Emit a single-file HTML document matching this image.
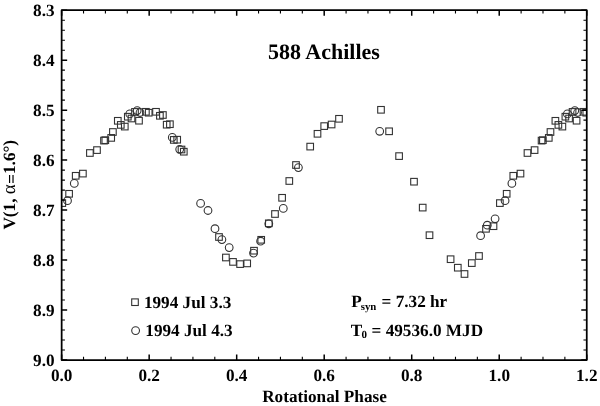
<!DOCTYPE html>
<html><head><meta charset="utf-8"><style>
html,body{margin:0;padding:0;background:#fff;}
body{width:600px;height:406px;overflow:hidden;}
svg{display:block;will-change:transform;}
text{text-rendering:geometricPrecision;font-family:"Liberation Serif",serif;font-weight:bold;fill:#000;}
</style></head><body>
<svg width="600" height="406" viewBox="0 0 600 406">
<defs><clipPath id="c"><rect x="61.65" y="10.2" width="525.1" height="349.8"/></clipPath></defs>
<g clip-path="url(#c)" fill="none" stroke="#333" stroke-width="1.1">
<rect x="59.00" y="199.80" width="6.6" height="6.6"/>
<rect x="65.80" y="190.50" width="6.6" height="6.6"/>
<rect x="72.40" y="172.50" width="6.6" height="6.6"/>
<rect x="79.60" y="170.30" width="6.6" height="6.6"/>
<rect x="86.60" y="149.70" width="6.6" height="6.6"/>
<rect x="93.70" y="146.80" width="6.6" height="6.6"/>
<rect x="100.70" y="137.30" width="6.6" height="6.6"/>
<rect x="102.00" y="136.90" width="6.6" height="6.6"/>
<rect x="107.90" y="134.60" width="6.6" height="6.6"/>
<rect x="109.60" y="128.70" width="6.6" height="6.6"/>
<rect x="114.50" y="117.50" width="6.6" height="6.6"/>
<rect x="117.50" y="121.60" width="6.6" height="6.6"/>
<rect x="121.50" y="123.30" width="6.6" height="6.6"/>
<rect x="124.50" y="113.40" width="6.6" height="6.6"/>
<rect x="128.20" y="115.20" width="6.6" height="6.6"/>
<rect x="131.70" y="108.60" width="6.6" height="6.6"/>
<rect x="135.70" y="117.40" width="6.6" height="6.6"/>
<rect x="142.60" y="108.50" width="6.6" height="6.6"/>
<rect x="145.40" y="109.40" width="6.6" height="6.6"/>
<rect x="152.70" y="108.50" width="6.6" height="6.6"/>
<rect x="156.60" y="112.50" width="6.6" height="6.6"/>
<rect x="159.60" y="111.70" width="6.6" height="6.6"/>
<rect x="163.40" y="121.40" width="6.6" height="6.6"/>
<rect x="166.60" y="120.90" width="6.6" height="6.6"/>
<rect x="170.50" y="136.60" width="6.6" height="6.6"/>
<rect x="173.90" y="136.40" width="6.6" height="6.6"/>
<rect x="178.20" y="146.20" width="6.6" height="6.6"/>
<rect x="180.50" y="148.40" width="6.6" height="6.6"/>
<rect x="215.70" y="233.70" width="6.6" height="6.6"/>
<rect x="222.60" y="254.20" width="6.6" height="6.6"/>
<rect x="229.70" y="258.60" width="6.6" height="6.6"/>
<rect x="236.80" y="260.80" width="6.6" height="6.6"/>
<rect x="243.90" y="260.10" width="6.6" height="6.6"/>
<rect x="250.70" y="247.40" width="6.6" height="6.6"/>
<rect x="257.90" y="236.50" width="6.6" height="6.6"/>
<rect x="265.50" y="220.00" width="6.6" height="6.6"/>
<rect x="271.70" y="210.70" width="6.6" height="6.6"/>
<rect x="278.80" y="194.50" width="6.6" height="6.6"/>
<rect x="286.00" y="177.70" width="6.6" height="6.6"/>
<rect x="292.70" y="161.70" width="6.6" height="6.6"/>
<rect x="306.90" y="143.30" width="6.6" height="6.6"/>
<rect x="314.20" y="130.50" width="6.6" height="6.6"/>
<rect x="320.90" y="122.80" width="6.6" height="6.6"/>
<rect x="328.30" y="121.20" width="6.6" height="6.6"/>
<rect x="335.70" y="115.50" width="6.6" height="6.6"/>
<rect x="377.70" y="106.50" width="6.6" height="6.6"/>
<rect x="385.80" y="128.00" width="6.6" height="6.6"/>
<rect x="395.80" y="152.80" width="6.6" height="6.6"/>
<rect x="410.70" y="178.40" width="6.6" height="6.6"/>
<rect x="419.40" y="204.30" width="6.6" height="6.6"/>
<rect x="426.20" y="231.90" width="6.6" height="6.6"/>
<rect x="447.30" y="255.90" width="6.6" height="6.6"/>
<rect x="454.50" y="264.40" width="6.6" height="6.6"/>
<rect x="461.20" y="270.70" width="6.6" height="6.6"/>
<rect x="468.50" y="259.80" width="6.6" height="6.6"/>
<rect x="475.70" y="252.70" width="6.6" height="6.6"/>
<rect x="482.70" y="225.50" width="6.6" height="6.6"/>
<rect x="490.20" y="222.90" width="6.6" height="6.6"/>
<rect x="496.58" y="199.80" width="6.6" height="6.6"/>
<rect x="503.38" y="190.50" width="6.6" height="6.6"/>
<rect x="509.98" y="172.50" width="6.6" height="6.6"/>
<rect x="517.18" y="170.30" width="6.6" height="6.6"/>
<rect x="524.18" y="149.70" width="6.6" height="6.6"/>
<rect x="531.28" y="146.80" width="6.6" height="6.6"/>
<rect x="538.28" y="137.30" width="6.6" height="6.6"/>
<rect x="539.58" y="136.90" width="6.6" height="6.6"/>
<rect x="545.48" y="134.60" width="6.6" height="6.6"/>
<rect x="547.18" y="128.70" width="6.6" height="6.6"/>
<rect x="552.08" y="117.50" width="6.6" height="6.6"/>
<rect x="555.08" y="121.60" width="6.6" height="6.6"/>
<rect x="559.08" y="123.30" width="6.6" height="6.6"/>
<rect x="562.08" y="113.40" width="6.6" height="6.6"/>
<rect x="565.78" y="115.20" width="6.6" height="6.6"/>
<rect x="569.28" y="108.60" width="6.6" height="6.6"/>
<rect x="573.28" y="117.40" width="6.6" height="6.6"/>
<rect x="580.18" y="108.50" width="6.6" height="6.6"/>
<rect x="582.98" y="109.40" width="6.6" height="6.6"/>
<rect x="590.28" y="108.50" width="6.6" height="6.6"/>
<rect x="594.18" y="112.50" width="6.6" height="6.6"/>
<rect x="597.18" y="111.70" width="6.6" height="6.6"/>
<rect x="600.98" y="121.40" width="6.6" height="6.6"/>
<rect x="604.18" y="120.90" width="6.6" height="6.6"/>
<rect x="608.08" y="136.60" width="6.6" height="6.6"/>
<rect x="611.48" y="136.40" width="6.6" height="6.6"/>
<rect x="615.78" y="146.20" width="6.6" height="6.6"/>
<rect x="618.08" y="148.40" width="6.6" height="6.6"/>
<circle cx="67.50" cy="200.70" r="3.85"/>
<circle cx="74.30" cy="183.40" r="3.85"/>
<circle cx="129.80" cy="113.90" r="3.85"/>
<circle cx="137.20" cy="110.60" r="3.85"/>
<circle cx="140.00" cy="112.50" r="3.85"/>
<circle cx="172.30" cy="137.40" r="3.85"/>
<circle cx="179.70" cy="149.30" r="3.85"/>
<circle cx="200.60" cy="203.40" r="3.85"/>
<circle cx="208.00" cy="210.50" r="3.85"/>
<circle cx="215.00" cy="228.70" r="3.85"/>
<circle cx="221.90" cy="239.60" r="3.85"/>
<circle cx="229.20" cy="247.60" r="3.85"/>
<circle cx="253.50" cy="253.10" r="3.85"/>
<circle cx="260.60" cy="241.20" r="3.85"/>
<circle cx="268.80" cy="223.80" r="3.85"/>
<circle cx="283.30" cy="208.40" r="3.85"/>
<circle cx="298.40" cy="167.60" r="3.85"/>
<circle cx="379.70" cy="131.30" r="3.85"/>
<circle cx="480.60" cy="235.70" r="3.85"/>
<circle cx="487.30" cy="225.20" r="3.85"/>
<circle cx="495.10" cy="218.80" r="3.85"/>
<circle cx="505.08" cy="200.70" r="3.85"/>
<circle cx="511.88" cy="183.40" r="3.85"/>
<circle cx="567.38" cy="113.90" r="3.85"/>
<circle cx="574.78" cy="110.60" r="3.85"/>
<circle cx="577.58" cy="112.50" r="3.85"/>
<circle cx="609.88" cy="137.40" r="3.85"/>
<circle cx="617.28" cy="149.30" r="3.85"/>
</g>
<path d="M61.65 10.20h5.5M586.75 10.20h-5.5M61.65 60.17h5.5M586.75 60.17h-5.5M61.65 110.14h5.5M586.75 110.14h-5.5M61.65 160.11h5.5M586.75 160.11h-5.5M61.65 210.09h5.5M586.75 210.09h-5.5M61.65 260.06h5.5M586.75 260.06h-5.5M61.65 310.03h5.5M586.75 310.03h-5.5M61.65 360.00h5.5M586.75 360.00h-5.5M61.65 360.00v-5.5M61.65 10.20v5.5M149.17 360.00v-5.5M149.17 10.20v5.5M236.68 360.00v-5.5M236.68 10.20v5.5M324.20 360.00v-5.5M324.20 10.20v5.5M411.72 360.00v-5.5M411.72 10.20v5.5M499.23 360.00v-5.5M499.23 10.20v5.5M586.75 360.00v-5.5M586.75 10.20v5.5" stroke="#000" stroke-width="1.5" fill="none"/>
<path d="M61.65 20.19h3.3M586.75 20.19h-3.3M61.65 30.19h3.3M586.75 30.19h-3.3M61.65 40.18h3.3M586.75 40.18h-3.3M61.65 50.18h3.3M586.75 50.18h-3.3M61.65 70.17h3.3M586.75 70.17h-3.3M61.65 80.16h3.3M586.75 80.16h-3.3M61.65 90.15h3.3M586.75 90.15h-3.3M61.65 100.15h3.3M586.75 100.15h-3.3M61.65 120.14h3.3M586.75 120.14h-3.3M61.65 130.13h3.3M586.75 130.13h-3.3M61.65 140.13h3.3M586.75 140.13h-3.3M61.65 150.12h3.3M586.75 150.12h-3.3M61.65 170.11h3.3M586.75 170.11h-3.3M61.65 180.10h3.3M586.75 180.10h-3.3M61.65 190.10h3.3M586.75 190.10h-3.3M61.65 200.09h3.3M586.75 200.09h-3.3M61.65 220.08h3.3M586.75 220.08h-3.3M61.65 230.07h3.3M586.75 230.07h-3.3M61.65 240.07h3.3M586.75 240.07h-3.3M61.65 250.06h3.3M586.75 250.06h-3.3M61.65 270.05h3.3M586.75 270.05h-3.3M61.65 280.05h3.3M586.75 280.05h-3.3M61.65 290.04h3.3M586.75 290.04h-3.3M61.65 300.03h3.3M586.75 300.03h-3.3M61.65 320.02h3.3M586.75 320.02h-3.3M61.65 330.02h3.3M586.75 330.02h-3.3M61.65 340.01h3.3M586.75 340.01h-3.3M61.65 350.01h3.3M586.75 350.01h-3.3M83.53 360.00v-3.3M83.53 10.20v3.3M105.41 360.00v-3.3M105.41 10.20v3.3M127.29 360.00v-3.3M127.29 10.20v3.3M171.05 360.00v-3.3M171.05 10.20v3.3M192.93 360.00v-3.3M192.93 10.20v3.3M214.80 360.00v-3.3M214.80 10.20v3.3M258.56 360.00v-3.3M258.56 10.20v3.3M280.44 360.00v-3.3M280.44 10.20v3.3M302.32 360.00v-3.3M302.32 10.20v3.3M346.08 360.00v-3.3M346.08 10.20v3.3M367.96 360.00v-3.3M367.96 10.20v3.3M389.84 360.00v-3.3M389.84 10.20v3.3M433.60 360.00v-3.3M433.60 10.20v3.3M455.48 360.00v-3.3M455.48 10.20v3.3M477.35 360.00v-3.3M477.35 10.20v3.3M521.11 360.00v-3.3M521.11 10.20v3.3M542.99 360.00v-3.3M542.99 10.20v3.3M564.87 360.00v-3.3M564.87 10.20v3.3" stroke="#000" stroke-width="1.1" fill="none"/>
<rect x="61.65" y="10.2" width="525.10" height="349.80" fill="none" stroke="#000" stroke-width="1.75" stroke-linejoin="round"/>
<g font-size="17.2">
<text x="54.6" y="15.90" text-anchor="end">8.3</text>
<text x="54.6" y="65.87" text-anchor="end">8.4</text>
<text x="54.6" y="115.84" text-anchor="end">8.5</text>
<text x="54.6" y="165.81" text-anchor="end">8.6</text>
<text x="54.6" y="215.79" text-anchor="end">8.7</text>
<text x="54.6" y="265.76" text-anchor="end">8.8</text>
<text x="54.6" y="315.73" text-anchor="end">8.9</text>
<text x="54.6" y="365.70" text-anchor="end">9.0</text>
<text x="61.65" y="381.4" text-anchor="middle">0.0</text>
<text x="149.17" y="381.4" text-anchor="middle">0.2</text>
<text x="236.68" y="381.4" text-anchor="middle">0.4</text>
<text x="324.20" y="381.4" text-anchor="middle">0.6</text>
<text x="411.72" y="381.4" text-anchor="middle">0.8</text>
<text x="499.23" y="381.4" text-anchor="middle">1.0</text>
<text x="586.75" y="381.4" text-anchor="middle">1.2</text>
</g>
<text x="268.0" y="59.1" font-size="22">588 Achilles</text>
<text x="324.5" y="401.9" font-size="17.2" text-anchor="middle">Rotational Phase</text>
<text transform="translate(15.0 229.6) rotate(-90)" font-size="17.2">V(1, <tspan font-size="19" font-weight="normal">α</tspan><tspan dx="0.5" dy="1.5">=</tspan><tspan dy="-1.5">1.6°)</tspan></text>
<g font-size="17.2">
<rect x="131.7" y="298.9" width="6.6" height="6.6" fill="none" stroke="#333" stroke-width="1.1"/>
<text x="143.9" y="307.5">1994 Jul 3.3</text>
<circle cx="135.6" cy="330.6" r="3.9" fill="none" stroke="#333" stroke-width="1.1"/>
<text x="145.3" y="335.9">1994 Jul 4.3</text>
<text x="351.2" y="307.4">P</text><text x="360.7" y="309.6" font-size="10.8">syn</text><text x="381.6" y="307.4">= 7.32 hr</text>
<text x="350.7" y="335.9">T</text><text x="361.6" y="338.3" font-size="11">0</text><text x="371.6" y="335.9">= 49536.0 MJD</text>
</g>
</svg>
</body></html>
